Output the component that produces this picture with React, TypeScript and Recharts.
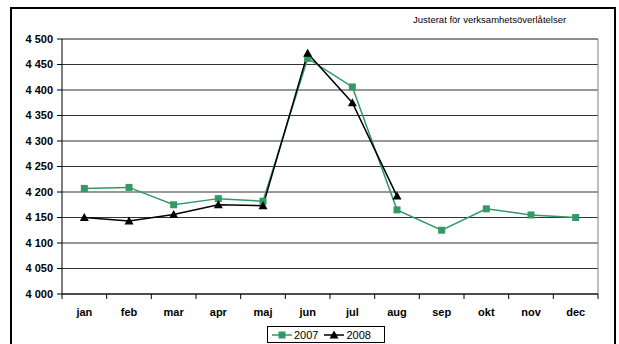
import { LineChart, Line, XAxis, YAxis, CartesianGrid, ReferenceLine } from 'recharts'

const months = ['jan', 'feb', 'mar', 'apr', 'maj', 'jun', 'jul', 'aug', 'sep', 'okt', 'nov', 'dec']
const values2007 = [4207, 4209, 4175, 4187, 4182, 4462, 4406, 4165, 4125, 4167, 4155, 4150]
const values2008 = [4150, 4143, 4156, 4175, 4173, 4472, 4375, 4192]
const yTicks = [4000, 4050, 4100, 4150, 4200, 4250, 4300, 4350, 4400, 4450, 4500]
const xTicks = [0, 1, 2, 3, 4, 5, 6, 7, 8, 9, 10, 11, 12]

const GREEN = '#339966'
const W = 619
const H = 344
const MARGIN = { top: 39, right: 21, bottom: 20, left: 0 }
const Y_AXIS_W = 62
const STEP = (W - Y_AXIS_W - MARGIN.right) / months.length

// each month sits in the middle of its band, boundaries get the tick marks
const data = months.map((m, i) => ({
    month: m,
    pos: i + 0.5,
    y2007: values2007[i] ?? null,
    y2008: values2008[i] ?? null,
}))

const fmt = (v: number) => String(v).replace(/\B(?=(\d{3})+(?!\d))/g, ' ')

const font = 'Arial, "Liberation Sans", sans-serif'

function MonthTick(props: any) {
    const { x, y, index } = props
    if (index >= months.length) return <g />
    return (
        <text x={x + STEP / 2} y={y} dy="0.71em" textAnchor="middle" fontFamily={font} fontSize={11} fontWeight="bold" fill="#000">
            {months[index]}
        </text>
    )
}

function ValueTick(props: any) {
    const { x, y, payload } = props
    return (
        <text x={x} y={y} dy="0.355em" textAnchor="end" fontFamily={font} fontSize={11} fontWeight="bold" fill="#000">
            {fmt(payload.value)}
        </text>
    )
}

function SquareDot(props: any) {
    const { cx, cy, value } = props
    if (value == null || cx == null || cy == null) return <g key={props.key} />
    return <rect key={props.key} x={cx - 3.5} y={cy - 3.5} width={7} height={7} fill={GREEN} />
}

function TriangleDot(props: any) {
    const { cx, cy, value } = props
    if (value == null || cx == null || cy == null) return <g key={props.key} />
    return <path key={props.key} d={`M${cx},${cy - 4.5} L${cx + 4.5},${cy + 3.5} L${cx - 4.5},${cy + 3.5} Z`} fill="#000" />
}

function LegendBox() {
    return (
        <div style={{ position: 'absolute', left: 267, top: 326, width: 118, height: 17, border: '1px solid #000', background: '#fff', display: 'flex', alignItems: 'center', fontFamily: font, fontSize: 11, boxSizing: 'border-box', padding: '0 4px' }}>
            <svg width={20} height={10}>
                <line x1={0} y1={5} x2={20} y2={5} stroke={GREEN} strokeWidth={1.5} />
                <rect x={6.5} y={1.5} width={7} height={7} fill={GREEN} />
            </svg>
            <span style={{ marginLeft: 2, marginRight: 6 }}>2007</span>
            <svg width={20} height={10}>
                <line x1={0} y1={5} x2={20} y2={5} stroke="#000" strokeWidth={1.5} />
                <path d="M10,0.5 L14.5,8.5 L5.5,8.5 Z" fill="#000" />
            </svg>
            <span style={{ marginLeft: 2 }}>2008</span>
        </div>
    )
}

export default function App() {
    return (
        <div style={{ position: 'absolute', left: 0, top: 0, width: W, height: H, overflow: 'hidden', background: '#fff' }}>
            <div style={{ position: 'absolute', left: 10, top: 7, width: 602, height: 360, border: '2px solid #000' }} />
            <div style={{ position: 'absolute', left: 413, top: 14, fontFamily: font, fontSize: 9.5, color: '#000' }}>
                Justerat för verksamhetsöverlåtelser
            </div>
            <div style={{ position: 'absolute', left: 0, top: 0 }}>
                <LineChart width={W} height={H} data={data} margin={MARGIN}>
                    <CartesianGrid vertical={false} stroke="#333" strokeWidth={1} />
                    <XAxis
                        dataKey="pos"
                        type="number"
                        domain={[0, 12]}
                        ticks={xTicks}
                        interval={0}
                        tick={<MonthTick />}
                        tickSize={5}
                        tickMargin={9}
                        height={30}
                        stroke="#000"
                        allowDecimals={false}
                    />
                    <YAxis
                        domain={[4000, 4500]}
                        ticks={yTicks}
                        interval={0}
                        width={Y_AXIS_W}
                        tick={<ValueTick />}
                        tickSize={5}
                        tickMargin={4}
                        stroke="#000"
                    />
                    <ReferenceLine y={4500} stroke="#808080" />
                    <ReferenceLine x={12} stroke="#808080" />
                    <Line
                        dataKey="y2007"
                        stroke={GREEN}
                        strokeWidth={1.5}
                        dot={<SquareDot />}
                        activeDot={false}
                        connectNulls={false}
                        isAnimationActive={false}
                    />
                    <Line
                        dataKey="y2008"
                        stroke="#000"
                        strokeWidth={1.5}
                        dot={<TriangleDot />}
                        activeDot={false}
                        connectNulls={false}
                        isAnimationActive={false}
                    />
                </LineChart>
            </div>
            <LegendBox />
        </div>
    )
}
